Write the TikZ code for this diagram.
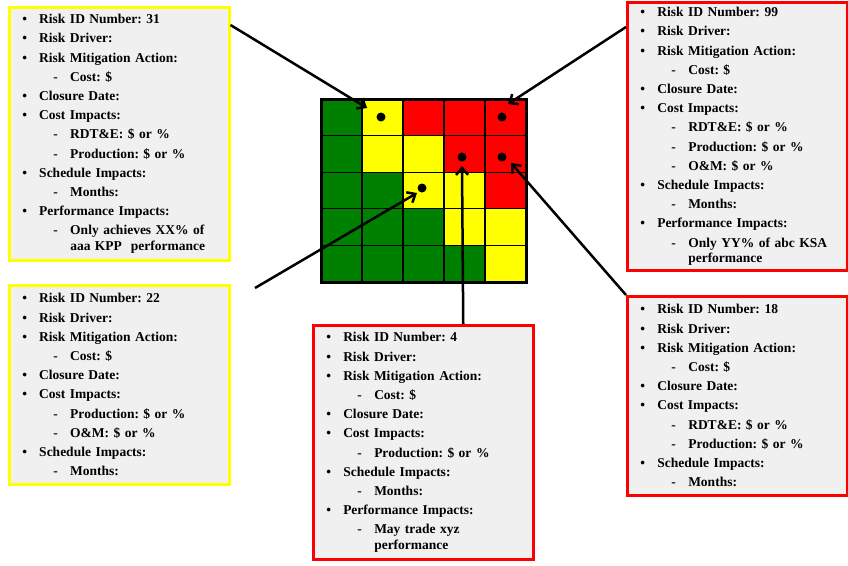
\documentclass[tikz,border=0pt]{standalone}
\usepackage{fontspec}
\setmainfont{Liberation Serif}
\usetikzlibrary{arrows.meta}

\definecolor{boxgray}{RGB}{240,240,240}
\definecolor{cg}{RGB}{0,128,0}
\definecolor{cy}{RGB}{255,255,0}
\definecolor{cr}{RGB}{255,0,0}

\newcommand{\itm}[1]{\hspace*{1pt}\makebox[17pt][l]{\textbullet}#1}
\newcommand{\subitm}[1]{\hspace*{32pt}\makebox[17pt][l]{-}#1}
\newcommand{\cont}[1]{\hspace*{49pt}#1}

\begin{document}
\begin{tikzpicture}[x=1pt, y=-1pt,
  riskbox/.style = {draw, line width=2.5pt, fill=boxgray, anchor=north west,
    inner xsep=12pt, inner ysep=0pt, text width=196pt, align=left,
    font=\fontsize{13.5}{19.2}\selectfont\bfseries\frenchspacing},
  lowbox/.style = {riskbox, draw=cy},
  highbox/.style = {riskbox, draw=cr},
  pointer/.style = {line width=2.5pt, -{Straight Barb[length=7pt,width=12pt]}}]
\useasboundingbox (0,0) rectangle (848,565);

% risk matrix
\foreach \c [count=\i from 0] in {g,y,r,r,r, g,y,y,r,r, g,g,y,y,r, g,g,g,y,y, g,g,g,g,y} {
  \pgfmathtruncatemacro\col{mod(\i,5)}
  \pgfmathtruncatemacro\row{\i/5}
  \fill[c\c] (321+41*\col,99+36.6*\row) rectangle ++(41,36.6);
}
\foreach \k in {1,...,4} {
  \draw[line width=1.2pt] (321+41*\k,99) -- ++(0,183);
  \draw[line width=1.2pt] (321,99+36.6*\k) -- ++(205,0);
}
\draw[line width=3pt] (321,99) rectangle (526,282);

% risks on the matrix
\fill (381,117) circle (4.5);
\fill (502,117) circle (4.5);
\fill (462,157) circle (4.5);
\fill (502,157) circle (4.5);
\fill (422,188) circle (4.5);

% risk boxes
\node[lowbox, minimum height=253pt] (r31) at (8,6) {
  \itm{Risk ID Number: 31}\\
  \itm{Risk Driver:}\\
  \itm{Risk Mitigation Action:}\\
  \subitm{Cost: \$}\\
  \itm{Closure Date:}\\
  \itm{Cost Impacts:}\\
  \subitm{RDT\&E: \$ or \%}\\
  \subitm{Production: \$ or \%}\\
  \itm{Schedule Impacts:}\\
  \subitm{Months:}\\
  \itm{Performance Impacts:}\\
  \subitm{Only achieves XX\% of}\\[-4pt]
  \cont{aaa KPP\ \ performance}};

\node[lowbox, minimum height=199pt] (r22) at (8,284) {
  \itm{Risk ID Number: 22}\\
  \itm{Risk Driver:}\\
  \itm{Risk Mitigation Action:}\\
  \subitm{Cost: \$}\\
  \itm{Closure Date:}\\
  \itm{Cost Impacts:}\\
  \subitm{Production: \$ or \%}\\
  \subitm{O\&M: \$ or \%}\\
  \itm{Schedule Impacts:}\\
  \subitm{Months:}};

\node[highbox, minimum height=234pt] (r4) at (312,324) {
  \itm{Risk ID Number: 4}\\
  \itm{Risk Driver:}\\
  \itm{Risk Mitigation Action:}\\
  \subitm{Cost: \$}\\
  \itm{Closure Date:}\\
  \itm{Cost Impacts:}\\
  \subitm{Production: \$ or \%}\\
  \itm{Schedule Impacts:}\\
  \subitm{Months:}\\
  \itm{Performance Impacts:}\\
  \subitm{May trade xyz}\\[-4pt]
  \cont{performance}};

\node[highbox, minimum height=268pt] (r99) at (626,1) {
  \itm{Risk ID Number: 99}\\
  \itm{Risk Driver:}\\
  \itm{Risk Mitigation Action:}\\
  \subitm{Cost: \$}\\
  \itm{Closure Date:}\\
  \itm{Cost Impacts:}\\
  \subitm{RDT\&E: \$ or \%}\\
  \subitm{Production: \$ or \%}\\
  \subitm{O\&M: \$ or \%}\\
  \itm{Schedule Impacts:}\\
  \subitm{Months:}\\
  \itm{Performance Impacts:}\\
  \subitm{Only YY\% of abc KSA}\\[-4pt]
  \cont{performance}};

\node[highbox, minimum height=199pt] (r18) at (626,295) {
  \itm{Risk ID Number: 18}\\
  \itm{Risk Driver:}\\
  \itm{Risk Mitigation Action:}\\
  \subitm{Cost: \$}\\
  \itm{Closure Date:}\\
  \itm{Cost Impacts:}\\
  \subitm{RDT\&E: \$ or \%}\\
  \subitm{Production: \$ or \%}\\
  \itm{Schedule Impacts:}\\
  \subitm{Months:}};

% arrow tips next to the dots
\coordinate (t31) at (367,108);
\coordinate (t99) at (508,104);
\coordinate (t22) at (417,193);
\coordinate (t4) at (462,166);
\coordinate (t18) at (511,163);
\coordinate (s22) at (255,288);

\draw[pointer] ([yshift=-19pt]r31.north east) -- (t31);
\draw[pointer] ([yshift=-26pt]r99.north west) -- (t99);
\draw[pointer] (s22) -- (t22);
\draw[pointer] ([xshift=40pt]r4.north) -- (t4);
\draw[pointer] (r18.north west) -- (t18);
\end{tikzpicture}
\end{document}
